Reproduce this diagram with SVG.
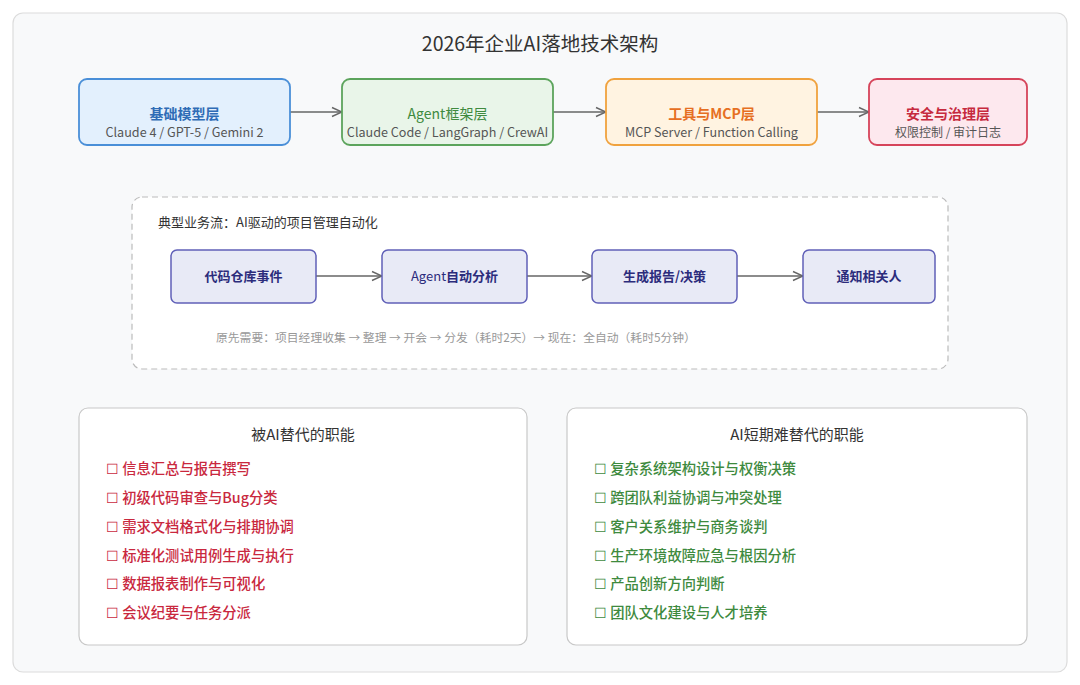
<svg xmlns="http://www.w3.org/2000/svg" width="1080" height="685" viewBox="0 0 1080 685">
<defs>
<marker id="arr" viewBox="0 0 12 12" refX="11" refY="6" markerWidth="12" markerHeight="12" markerUnits="userSpaceOnUse" orient="auto">
<path d="M1,1.5 L11,6 L1,10.5" fill="none" stroke="#666" stroke-width="1.4"/>
</marker>
<style>
text{font-family:"Noto Sans CJK SC","Noto Sans",sans-serif}
.t{font-size:14px;font-weight:600;text-anchor:middle}
.s{font-size:12px;fill:#555;text-anchor:middle}
.sl{font-size:12.6px}
.fb{fill:#e8eaf6;stroke:#6060b8;stroke-width:1.5}
.ft{font-size:13px;font-weight:600;fill:#2c2c7c;text-anchor:middle}
.n{font-weight:400}
.b{font-weight:600}
.con{stroke:#666;stroke-width:1.4;fill:none;marker-end:url(#arr)}
.card{fill:#fff;stroke:#c8c8c8;stroke-width:1.2}
.h{font-size:15px;fill:#333;text-anchor:middle}
.r{font-size:14.3px;font-weight:500;fill:#c9283e}
.g{font-size:14.3px;font-weight:500;fill:#3e8a3e}
</style>
</defs>
<rect x="13" y="13" width="1054" height="659" rx="10" fill="#f8f9fa" stroke="#dcdcdc" stroke-width="1.2"/>
<text x="540" y="51" font-size="19.5" fill="#333" text-anchor="middle">2026年企业AI落地技术架构</text>

<g id="flow">
<rect x="132" y="197" width="816" height="172" rx="10" fill="#fff" stroke="#bbb" stroke-width="1.2" stroke-dasharray="6,4"/>
<text x="158" y="227" font-size="13" fill="#333">典型业务流：AI驱动的项目管理自动化</text>
<text x="216" y="342" font-size="11.8" fill="#999">原先需要：项目经理收集 → 整理 → 开会 → 分发（耗时2天）→ 现在：全自动（耗时5分钟）</text>
</g>

<g id="connectors">
<path class="con" d="M290,112 H342"/>
<path class="con" d="M553,112 H606"/>
<path class="con" d="M817,112 H869"/>
<path class="con" d="M316,276 H382"/>
<path class="con" d="M527,276 H592"/>
<path class="con" d="M737,276 H803"/>
</g>

<g id="layer-model">
<rect x="79" y="79" width="211" height="66" rx="8" fill="#e3f0fd" stroke="#4a8fd8" stroke-width="1.8"/>
<text class="t" x="184.5" y="119" fill="#2f6cb6">基础模型层</text>
<text class="s sl" x="184.5" y="137">Claude 4 / GPT-5 / Gemini 2</text>
</g>
<g id="layer-agent">
<rect x="342" y="79" width="211" height="66" rx="8" fill="#e9f5e9" stroke="#5ca45c" stroke-width="1.8"/>
<text class="t n" x="447.5" y="119" fill="#3f8a3f">Agent框架层</text>
<text class="s sl" x="447.5" y="137">Claude Code / LangGraph / CrewAI</text>
</g>
<g id="layer-tools">
<rect x="606" y="79" width="211" height="66" rx="8" fill="#fff3e1" stroke="#f0a23e" stroke-width="1.8"/>
<text class="t" x="711.5" y="119" fill="#e66f22">工具与MCP层</text>
<text class="s sl" x="711.5" y="137">MCP Server / Function Calling</text>
</g>
<g id="layer-security">
<rect x="869" y="79" width="158" height="66" rx="8" fill="#fde8ee" stroke="#d6445a" stroke-width="1.8"/>
<text class="t" x="948" y="119" fill="#c62a3e">安全与治理层</text>
<text class="s" x="948" y="137">权限控制 / 审计日志</text>
</g>

<g id="step-repo">
<rect class="fb" x="171" y="250" width="145" height="53" rx="6"/>
<text class="ft" x="243.5" y="281">代码仓库事件</text>
</g>
<g id="step-agent">
<rect class="fb" x="382" y="250" width="145" height="53" rx="6"/>
<text class="ft n" x="454.5" y="281">Agent<tspan class="b">自动分析</tspan></text>
</g>
<g id="step-report">
<rect class="fb" x="592" y="250" width="145" height="53" rx="6"/>
<text class="ft" x="664.5" y="281">生成报告/决策</text>
</g>
<g id="step-notify">
<rect class="fb" x="803" y="250" width="132" height="53" rx="6"/>
<text class="ft" x="869" y="281">通知相关人</text>
</g>

<g id="replaced">
<rect class="card" x="79" y="408" width="448" height="237" rx="9"/>
<text class="h" x="303" y="440">被AI替代的职能</text>
<text class="r" x="106" y="474">☐ 信息汇总与报告撰写</text>
<text class="r" x="106" y="503">☐ 初级代码审查与Bug分类</text>
<text class="r" x="106" y="532">☐ 需求文档格式化与排期协调</text>
<text class="r" x="106" y="561">☐ 标准化测试用例生成与执行</text>
<text class="r" x="106" y="589">☐ 数据报表制作与可视化</text>
<text class="r" x="106" y="618">☐ 会议纪要与任务分派</text>
</g>
<g id="irreplaceable">
<rect class="card" x="567" y="408" width="460" height="237" rx="9"/>
<text class="h" x="797" y="440">AI短期难替代的职能</text>
<text class="g" x="594" y="474">☐ 复杂系统架构设计与权衡决策</text>
<text class="g" x="594" y="503">☐ 跨团队利益协调与冲突处理</text>
<text class="g" x="594" y="532">☐ 客户关系维护与商务谈判</text>
<text class="g" x="594" y="561">☐ 生产环境故障应急与根因分析</text>
<text class="g" x="594" y="589">☐ 产品创新方向判断</text>
<text class="g" x="594" y="618">☐ 团队文化建设与人才培养</text>
</g>
</svg>
